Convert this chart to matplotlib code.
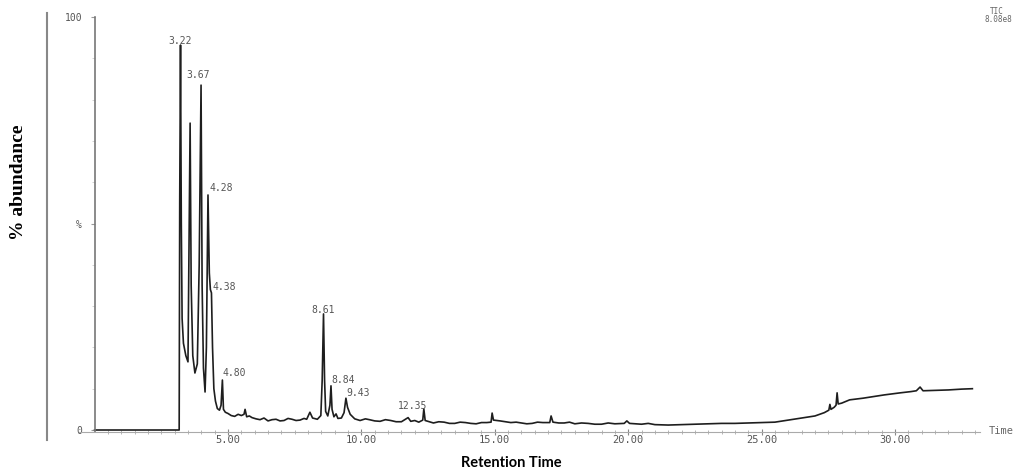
import numpy as np
import matplotlib.pyplot as plt
from matplotlib.lines import Line2D
from matplotlib.ticker import FixedLocator

# Cromatograma TIC (tiempo en min, % abundancia)
rt = [0.00, 3.17, 3.19, 3.22, 3.25, 3.28, 3.33, 3.42, 3.50, 3.54, 3.58, 3.62, 3.68,
      3.76, 3.85, 3.92, 3.99, 4.03, 4.08, 4.14, 4.19, 4.25, 4.30, 4.34, 4.38, 4.42,
      4.47, 4.53, 4.60, 4.68, 4.74, 4.79, 4.83, 4.90, 5.00, 5.12, 5.25, 5.38, 5.50,
      5.60, 5.64, 5.70, 5.80, 5.90, 6.05, 6.20, 6.35, 6.50, 6.65, 6.80, 6.95, 7.10,
      7.25, 7.40, 7.55, 7.70, 7.85, 7.95, 8.07, 8.17, 8.35, 8.48,
      8.53, 8.58, 8.62, 8.66, 8.74, 8.82, 8.86, 8.90, 8.97, 9.05, 9.12, 9.25, 9.35,
      9.42, 9.48, 9.58, 9.75, 9.95, 10.15, 10.3, 10.5, 10.7, 10.9, 11.1, 11.3, 11.5,
      11.75, 11.85, 12.0, 12.15, 12.30, 12.34, 12.39, 12.55, 12.7, 12.9, 13.1, 13.3,
      13.5, 13.7, 13.9, 14.1, 14.3, 14.5, 14.70, 14.86, 14.90, 14.95,
      15.2, 15.4, 15.6, 15.8, 16.0, 16.2, 16.4, 16.6, 16.8, 17.06, 17.11, 17.18,
      17.4, 17.6, 17.8, 18.0, 18.25, 18.5, 18.75, 19.0, 19.25,
      19.5, 19.85, 19.95, 20.05, 20.3, 20.5, 20.75, 21.0, 21.5, 22.0, 22.5, 23.0,
      23.5, 24.0, 24.5, 25.0, 25.5, 26.0, 26.5, 27.0, 27.35, 27.52, 27.56, 27.60,
      27.72, 27.79, 27.83, 27.87, 28.0, 28.3, 28.8, 29.1, 29.6, 30.2, 30.6, 30.8,
      30.94, 31.05, 31.5, 32.0, 32.5, 32.9]
abundance = [0, 0, 55, 93.2, 50, 27, 21, 18, 16.5, 45, 74.3, 35, 18,
             13.8, 16, 40, 83.5, 35, 15, 9.2, 20, 56.9, 38, 34, 33.2, 20,
             10, 7, 5.2, 4.8, 6, 12.1, 5, 4.3, 4.0, 3.5, 3.3, 3.8, 3.5,
             3.8, 5.0, 3.2, 3.4, 3.0, 2.7, 2.5, 2.9, 2.2, 2.5, 2.6, 2.2, 2.3,
             2.8, 2.6, 2.3, 2.4, 2.8, 2.6, 4.3, 2.9, 2.6, 3.5,
             12, 28.1, 12, 4.5, 3.4, 6, 10.7, 5, 3.2, 3.9, 2.8, 2.9, 4.2,
             7.7, 5.5, 3.8, 2.7, 2.3, 2.7, 2.5, 2.2, 2.1, 2.5, 2.3, 2.0, 2.0,
             3.0, 2.1, 2.3, 1.9, 2.4, 5.1, 2.3, 2.0, 1.7, 2.0, 1.9, 1.6,
             1.6, 1.9, 1.8, 1.6, 1.5, 1.8, 1.8, 1.9, 4.1, 2.4,
             2.2, 2.0, 1.8, 1.9, 1.7, 1.5, 1.6, 1.9, 1.8, 1.8, 3.4, 1.9,
             1.7, 1.7, 1.9, 1.5, 1.7, 1.6, 1.4, 1.4, 1.7,
             1.5, 1.6, 2.2, 1.6, 1.5, 1.4, 1.6, 1.3, 1.2, 1.3, 1.4, 1.5,
             1.6, 1.6, 1.7, 1.8, 1.9, 2.4, 2.9, 3.4, 4.2, 4.8, 6.2, 5.0,
             5.5, 6.0, 9.0, 6.3, 6.5, 7.3, 7.7, 8.0, 8.5, 9.0, 9.3, 9.5,
             10.4, 9.5, 9.6, 9.7, 9.9, 10.0]

# Picos etiquetados: posición en el trazo, altura y texto
peak_rt = [3.22, 3.99, 4.25, 4.38, 4.79, 8.58, 8.86, 9.42, 12.34]
peak_ab = [93.2, 83.5, 56.9, 33.2, 12.1, 28.1, 10.7, 7.7, 5.1]
peak_txt = ["3.22", "3.67", "4.28", "4.38", "4.80", "8.61", "8.84", "9.43", "12.35"]
peak_off = [(0, 4), (-3, 10), (2, 7), (1, 6), (0, 7), (0, 4), (0, 6), (0, 5), (3, 3)]
peak_ha = ["center", "center", "left", "left", "left", "center", "left", "left", "right"]

x_ticks = [5, 10, 15, 20, 25, 30]
x_labels = ["5.00", "10.00", "15.00", "20.00", "25.00", "30.00"]

W, H = 1019, 476
fig = plt.figure(figsize=(W / 100, H / 100), dpi=100)
ax = fig.add_axes([45 / W, 44 / H, 935 / W, 415 / H])

ax.plot(rt, abundance, color="#1e1e1e", lw=1.2)

for t, a, s, off, ha in zip(peak_rt, peak_ab, peak_txt, peak_off, peak_ha):
    ax.annotate(s, (t, a), xytext=off, textcoords="offset pixels",
                ha=ha, va="center", fontsize=7, family="DejaVu Sans Mono", color="#555555")

ax.set_xlim(-1.859, 33.186)
ax.set_ylim(-0.484, 100)

ax.spines["top"].set_visible(False)
ax.spines["right"].set_visible(False)
ax.spines["left"].set_position(("data", 0))
ax.spines["left"].set_color("#777777")
ax.spines["left"].set_linewidth(1.2)
ax.spines["bottom"].set_color("#aaaaaa")
ax.spines["bottom"].set_linewidth(0.8)
ax.spines["bottom"].set_bounds(-0.6, 33.19)

ax.set_xticks(x_ticks)
ax.set_xticklabels(x_labels, family="DejaVu Sans Mono", fontsize=7.5, color="#555555")
ax.xaxis.set_minor_locator(FixedLocator(np.arange(0.5, 33.1, 0.5)))
ax.tick_params(axis="x", which="major", direction="inout", length=5, color="#888888", pad=0)
ax.tick_params(axis="x", which="minor", direction="inout", length=3, color="#aaaaaa")

ax.set_yticks([0, 50, 100])
ax.set_yticklabels(["0", "%", "100"], family="DejaVu Sans Mono", fontsize=7, color="#555555")
ax.yaxis.set_minor_locator(FixedLocator(np.arange(10, 100, 10)))
ax.tick_params(axis="y", which="major", direction="out", length=3, color="#999999", pad=6)
ax.tick_params(axis="y", which="minor", direction="out", length=2, color="#cccccc")

# Marco izquierdo de la imagen escaneada
fig.add_artist(Line2D([47 / W, 47 / W], [1 - 13 / H, 1 - 440 / H], color="#888888", lw=1.5))

fig.text(997 / W, 1 - 11 / H, "TIC", fontsize=5.5, color="#666666", ha="center", va="center",
         family="DejaVu Sans Mono")
fig.text(998 / W, 1 - 20 / H, "8.08e8", fontsize=5.5, color="#666666", ha="center", va="center",
         family="DejaVu Sans Mono")
fig.text(1001 / W, 1 - 431 / H, "Time", fontsize=7.5, color="#666666", ha="center", va="center",
         family="DejaVu Sans Mono")

fig.text(19 / W, 1 - 182 / H, "% abundance", rotation=90, ha="center", va="center",
         fontsize=14, fontweight="bold", family="Liberation Serif")
fig.text(511 / W, 1 - 463 / H, "Retention Time", ha="center", va="center",
         fontsize=10.5, fontweight="bold", family="Lato")

plt.savefig("out.png", dpi=100)
